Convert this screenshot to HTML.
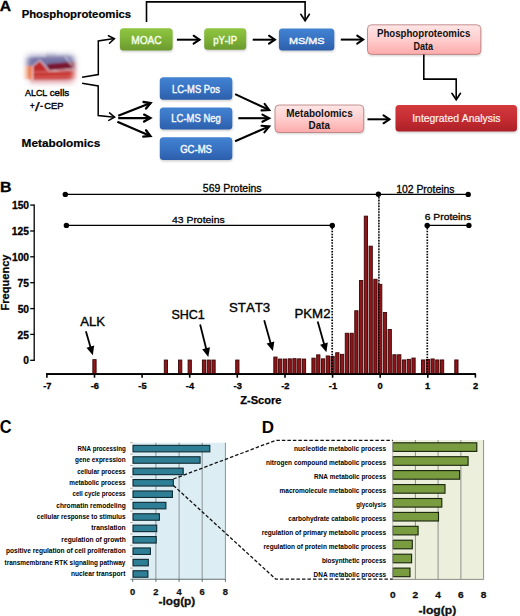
<!DOCTYPE html>
<html><head><meta charset="utf-8"><style>
html,body{margin:0;padding:0;background:#fff;}
body{width:520px;height:616px;overflow:hidden;}
svg{display:block;font-family:"Liberation Sans", sans-serif;font-kerning:none;}
</style></head><body>
<svg width="520" height="616" viewBox="0 0 520 616">
<defs>
<linearGradient id="gGreen" x1="0" y1="0" x2="0" y2="1"><stop offset="0" stop-color="#8fc641"/><stop offset="0.5" stop-color="#7eb237"/><stop offset="1" stop-color="#6b9a2e"/></linearGradient>
<linearGradient id="gBlue" x1="0" y1="0" x2="0" y2="1"><stop offset="0" stop-color="#4283d2"/><stop offset="0.5" stop-color="#3872c2"/><stop offset="1" stop-color="#2c5fab"/></linearGradient>
<linearGradient id="gPink" x1="0" y1="0" x2="0" y2="1"><stop offset="0" stop-color="#ffe6e6"/><stop offset="0.5" stop-color="#ffcdcd"/><stop offset="1" stop-color="#fdaaaa"/></linearGradient>
<linearGradient id="gRed" x1="0" y1="0" x2="0" y2="1"><stop offset="0" stop-color="#d33a3e"/><stop offset="0.5" stop-color="#c52d33"/><stop offset="1" stop-color="#ac2026"/></linearGradient>
<filter id="blur" x="-20%" y="-20%" width="140%" height="160%"><feGaussianBlur stdDeviation="1"/></filter>
<filter id="blur2" x="-40%" y="-40%" width="180%" height="180%"><feGaussianBlur stdDeviation="3"/></filter>
<filter id="blur1" x="-20%" y="-20%" width="140%" height="140%"><feGaussianBlur stdDeviation="0.9"/></filter>
<radialGradient id="gFade" cx="0.5" cy="0.47" r="0.55"><stop offset="0.55" stop-color="#fff" stop-opacity="0"/><stop offset="0.92" stop-color="#fff" stop-opacity="1"/></radialGradient>
<radialGradient id="gMask" cx="0.5" cy="0.5" r="0.5"><stop offset="0.55" stop-color="#fff"/><stop offset="1" stop-color="#000"/></radialGradient>
<mask id="mFade" maskUnits="userSpaceOnUse" x="18" y="48" width="64" height="42"><rect x="18" y="48" width="64" height="42" fill="#000"/><rect x="27.5" y="55.5" width="46" height="26.5" fill="#fff" filter="url(#blur2)"/><rect x="31" y="59" width="39" height="19" fill="#fff" filter="url(#blur2)"/></mask>
</defs>
<text x="-0.24" y="11.00" font-size="15.33" font-weight="bold" fill="#000" textLength="11.30" lengthAdjust="spacingAndGlyphs" stroke="#000" stroke-width="0.3">A</text>
<text x="21.64" y="18.00" font-size="11.77" font-weight="bold" fill="#000" textLength="109.52" lengthAdjust="spacingAndGlyphs" stroke="#000" stroke-width="0.2">Phosphoproteomics</text>
<text x="21.61" y="147.00" font-size="11.77" font-weight="bold" fill="#000" textLength="78.57" lengthAdjust="spacingAndGlyphs" stroke="#000" stroke-width="0.2">Metabolomics</text>
<text x="25.08" y="95.80" font-size="9.74" font-weight="normal" fill="#000" textLength="22.21" lengthAdjust="spacingAndGlyphs" stroke="#000" stroke-width="0.4">ALCL</text>
<text x="49.68" y="95.80" font-size="9.67" font-weight="normal" fill="#000" textLength="19.57" lengthAdjust="spacingAndGlyphs" stroke="#000" stroke-width="0.4">cells</text>
<text x="29.95" y="108.90" font-size="9.08" font-weight="normal" fill="#000" textLength="4.51" lengthAdjust="spacingAndGlyphs" stroke="#000" stroke-width="0.45">+</text>
<text x="35.02" y="110.90" font-size="12.26" font-weight="normal" fill="#000" textLength="4.65" lengthAdjust="spacingAndGlyphs" stroke="#000" stroke-width="0.25">/</text>
<text x="40.10" y="109.30" font-size="9.99" font-weight="normal" fill="#000" textLength="3.00" lengthAdjust="spacingAndGlyphs" stroke="#000" stroke-width="0.4">-</text>
<text x="44.33" y="109.30" font-size="9.16" font-weight="normal" fill="#000" textLength="18.95" lengthAdjust="spacingAndGlyphs" stroke="#000" stroke-width="0.4">CEP</text>
<g mask="url(#mFade)"><g filter="url(#blur1)">
<rect x="18" y="48" width="64" height="42" fill="#ead6dc"/>
<rect x="18" y="48" width="64" height="20" fill="#7472a4"/>
<rect x="18" y="48" width="28" height="9" fill="#a4a2c8"/>
<rect x="56" y="48" width="26" height="7" fill="#9896c0"/>
<polygon points="18,66 33,66 33,80 18,80" fill="#e66a32"/>
<polygon points="33,66 40,61 48,70 82,63 82,82 33,82" fill="#bf2a2a"/>
<polygon points="47,64 82,61 82,70 48,71" fill="#7a1830"/>
<polygon points="33,74 82,72 82,79 33,80" fill="#c83834"/>
<polygon points="30,80 82,79 82,90 30,90" fill="#d89098"/>
<polyline points="32.5,80 32.5,66 40,60 49,71 74,69" fill="none" stroke="#f8e8f0" stroke-width="1" opacity="0.9"/>
<line x1="41.5" y1="62" x2="48.5" y2="70" stroke="#f0d0e0" stroke-width="0.7" opacity="0.8"/>
<line x1="33" y1="72.2" x2="74" y2="71" stroke="#ffd0c8" stroke-width="0.8" opacity="0.7"/>
<line x1="33" y1="77.2" x2="74" y2="76" stroke="#ffc0b8" stroke-width="0.6" opacity="0.6"/>
<line x1="65" y1="56.5" x2="71.5" y2="65" stroke="#f4f0ff" stroke-width="1" opacity="0.9"/>
</g></g>
<rect x="120.4" y="29.7" width="52.7" height="22.3" rx="3.5" fill="#000" opacity="0.18" filter="url(#blur)"/>
<rect x="119.9" y="28.2" width="52.7" height="22.3" rx="3.5" fill="url(#gGreen)" stroke="none" stroke-width="0"/>
<text x="131.29" y="43.90" font-size="10.79" font-weight="normal" fill="#f4ffe8" textLength="30.37" lengthAdjust="spacingAndGlyphs" stroke="#f4ffe8" stroke-width="0.45">MOAC</text>
<rect x="204.7" y="29.7" width="42.0" height="21.5" rx="3.5" fill="#000" opacity="0.18" filter="url(#blur)"/>
<rect x="204.2" y="28.2" width="42.0" height="21.5" rx="3.5" fill="url(#gGreen)" stroke="none" stroke-width="0"/>
<text x="213.21" y="43.80" font-size="10.14" font-weight="normal" fill="#f4ffe8" textLength="23.87" lengthAdjust="spacingAndGlyphs" stroke="#f4ffe8" stroke-width="0.45">pY-IP</text>
<rect x="279.4" y="30.0" width="55.4" height="22.0" rx="3.5" fill="#000" opacity="0.18" filter="url(#blur)"/>
<rect x="278.9" y="28.5" width="55.4" height="22.0" rx="3.5" fill="url(#gBlue)" stroke="none" stroke-width="0"/>
<text x="289.04" y="43.50" font-size="9.85" font-weight="normal" fill="#f4f8ff" textLength="35.54" lengthAdjust="spacingAndGlyphs" stroke="#f4f8ff" stroke-width="0.45">MS/MS</text>
<rect x="368.0" y="26.3" width="113.3" height="29.6" rx="4" fill="#000" opacity="0.18" filter="url(#blur)"/>
<rect x="367.5" y="24.8" width="113.3" height="29.6" rx="4" fill="url(#gPink)" stroke="#b87878" stroke-width="0.8"/>
<text x="376.95" y="37.10" font-size="10.32" font-weight="bold" fill="#111" textLength="93.44" lengthAdjust="spacingAndGlyphs">Phosphoproteomics</text>
<text x="413.40" y="50.00" font-size="10.17" font-weight="bold" fill="#111" textLength="19.55" lengthAdjust="spacingAndGlyphs">Data</text>
<rect x="160.3" y="78.8" width="72.5" height="22.5" rx="3.5" fill="#000" opacity="0.18" filter="url(#blur)"/>
<rect x="159.8" y="77.3" width="72.5" height="22.5" rx="3.5" fill="url(#gBlue)" stroke="none" stroke-width="0"/>
<text x="171.96" y="92.80" font-size="11.01" font-weight="normal" fill="#f4f8ff" textLength="47.96" lengthAdjust="spacingAndGlyphs" stroke="#f4f8ff" stroke-width="0.45">LC-MS Pos</text>
<rect x="160.3" y="109.0" width="72.5" height="22.1" rx="3.5" fill="#000" opacity="0.18" filter="url(#blur)"/>
<rect x="159.8" y="107.5" width="72.5" height="22.1" rx="3.5" fill="url(#gBlue)" stroke="none" stroke-width="0"/>
<text x="171.35" y="122.30" font-size="11.01" font-weight="normal" fill="#f4f8ff" textLength="49.44" lengthAdjust="spacingAndGlyphs" stroke="#f4f8ff" stroke-width="0.45">LC-MS Neg</text>
<rect x="160.3" y="138.8" width="72.5" height="22.7" rx="3.5" fill="#000" opacity="0.18" filter="url(#blur)"/>
<rect x="159.8" y="137.3" width="72.5" height="22.7" rx="3.5" fill="url(#gBlue)" stroke="none" stroke-width="0"/>
<text x="180.14" y="153.00" font-size="11.01" font-weight="normal" fill="#f4f8ff" textLength="31.87" lengthAdjust="spacingAndGlyphs" stroke="#f4f8ff" stroke-width="0.45">GC-MS</text>
<rect x="275.5" y="106.5" width="88.7" height="27.5" rx="4" fill="#000" opacity="0.18" filter="url(#blur)"/>
<rect x="275.0" y="105.0" width="88.7" height="27.5" rx="4" fill="url(#gPink)" stroke="#b87878" stroke-width="0.8"/>
<text x="286.23" y="116.50" font-size="11.19" font-weight="bold" fill="#111" textLength="66.48" lengthAdjust="spacingAndGlyphs">Metabolomics</text>
<text x="308.54" y="129.30" font-size="10.76" font-weight="bold" fill="#111" textLength="21.40" lengthAdjust="spacingAndGlyphs">Data</text>
<rect x="396.0" y="106.5" width="121.5" height="26.5" rx="3.5" fill="#000" opacity="0.18" filter="url(#blur)"/>
<rect x="395.5" y="105.0" width="121.5" height="26.5" rx="3.5" fill="url(#gRed)" stroke="none" stroke-width="0"/>
<text x="412.24" y="122.40" font-size="10.17" font-weight="normal" fill="#fff0f0" textLength="88.23" lengthAdjust="spacingAndGlyphs" stroke="#fff0f0" stroke-width="0.2">Integrated Analysis</text>
<polyline points="82.1,77.3 98.3,74.6 98.3,41.0 114.4,38.6" fill="none" stroke="#000" stroke-width="1.5" stroke-linejoin="miter"/>
<polyline points="109.5,43.2 114.4,38.6 108.4,35.7" fill="none" stroke="#000" stroke-width="1.5" stroke-linecap="round" stroke-linejoin="miter"/>
<polyline points="82.1,83.3 98.2,86.0 98.2,115.6 114.6,117.2" fill="none" stroke="#000" stroke-width="1.5" stroke-linejoin="miter"/>
<polyline points="108.8,120.4 114.6,117.2 109.5,112.9" fill="none" stroke="#000" stroke-width="1.5" stroke-linecap="round" stroke-linejoin="miter"/>
<polyline points="118.2,115.7 150.6,103.0" fill="none" stroke="#000" stroke-width="2.3" stroke-linejoin="miter"/>
<polyline points="146.0,108.6 150.6,103.0 143.5,102.0" fill="none" stroke="#000" stroke-width="2.3" stroke-linecap="round" stroke-linejoin="miter"/>
<polyline points="118.2,118.1 150.4,118.1" fill="none" stroke="#000" stroke-width="2.3" stroke-linejoin="miter"/>
<polyline points="144.1,121.6 150.4,118.1 144.1,114.6" fill="none" stroke="#000" stroke-width="2.3" stroke-linecap="round" stroke-linejoin="miter"/>
<polyline points="117.4,121.7 150.4,136.0" fill="none" stroke="#000" stroke-width="2.3" stroke-linejoin="miter"/>
<polyline points="143.2,136.7 150.4,136.0 146.0,130.3" fill="none" stroke="#000" stroke-width="2.3" stroke-linecap="round" stroke-linejoin="miter"/>
<polyline points="176.9,39.7 199.6,39.7" fill="none" stroke="#000" stroke-width="2.0" stroke-linejoin="miter"/>
<polyline points="193.6,43.7 199.6,39.7 193.6,35.7" fill="none" stroke="#000" stroke-width="2.0" stroke-linecap="round" stroke-linejoin="miter"/>
<polyline points="252.7,39.7 275.0,39.7" fill="none" stroke="#000" stroke-width="2.0" stroke-linejoin="miter"/>
<polyline points="269.0,43.7 275.0,39.7 269.0,35.7" fill="none" stroke="#000" stroke-width="2.0" stroke-linecap="round" stroke-linejoin="miter"/>
<polyline points="340.8,39.6 363.2,39.6" fill="none" stroke="#000" stroke-width="2.0" stroke-linejoin="miter"/>
<polyline points="357.2,43.6 363.2,39.6 357.2,35.6" fill="none" stroke="#000" stroke-width="2.0" stroke-linecap="round" stroke-linejoin="miter"/>
<polyline points="146.5,22 146.5,1.9 305.1,1.9 305.1,20.8" fill="none" stroke="#000" stroke-width="1.6"/>
<polyline points="300.8,14.3 305.1,20.8 309.4,14.3" fill="none" stroke="#000" stroke-width="1.6" stroke-linecap="round" stroke-linejoin="miter"/>
<polyline points="423.8,54.4 423.8,79.1 456.2,79.1 456.2,99.8" fill="none" stroke="#000" stroke-width="1.6"/>
<polyline points="451.9,93.3 456.2,99.8 460.5,93.3" fill="none" stroke="#000" stroke-width="1.6" stroke-linecap="round" stroke-linejoin="miter"/>
<polyline points="235.1,94.1 269.2,110.0" fill="none" stroke="#000" stroke-width="2.1" stroke-linejoin="miter"/>
<polyline points="261.5,110.4 269.2,110.0 264.6,103.9" fill="none" stroke="#000" stroke-width="2.1" stroke-linecap="round" stroke-linejoin="miter"/>
<polyline points="238.3,118.2 269.2,118.2" fill="none" stroke="#000" stroke-width="2.1" stroke-linejoin="miter"/>
<polyline points="262.4,121.8 269.2,118.2 262.4,114.6" fill="none" stroke="#000" stroke-width="2.1" stroke-linecap="round" stroke-linejoin="miter"/>
<polyline points="235.1,141.2 269.2,126.4" fill="none" stroke="#000" stroke-width="2.1" stroke-linejoin="miter"/>
<polyline points="264.4,132.4 269.2,126.4 261.5,125.8" fill="none" stroke="#000" stroke-width="2.1" stroke-linecap="round" stroke-linejoin="miter"/>
<polyline points="367.5,119.3 389.5,119.3" fill="none" stroke="#000" stroke-width="2.0" stroke-linejoin="miter"/>
<polyline points="383.5,123.3 389.5,119.3 383.5,115.3" fill="none" stroke="#000" stroke-width="2.0" stroke-linecap="round" stroke-linejoin="miter"/>
<text x="-0.11" y="191.50" font-size="14.32" font-weight="bold" fill="#000" textLength="11.49" lengthAdjust="spacingAndGlyphs" stroke="#000" stroke-width="0.3">B</text>
<line x1="34.2" y1="204.5" x2="34.2" y2="360.9" stroke="#000" stroke-width="1.3"/>
<line x1="30.2" y1="360.3" x2="34.2" y2="360.3" stroke="#000" stroke-width="1.3"/>
<text x="23.37" y="364.40" font-size="11.03" font-weight="bold" fill="#000" textLength="5.70" lengthAdjust="spacingAndGlyphs" stroke="#000" stroke-width="0.3">0</text>
<line x1="30.2" y1="334.4" x2="34.2" y2="334.4" stroke="#000" stroke-width="1.3"/>
<text x="17.53" y="338.53" font-size="11.03" font-weight="bold" fill="#000" textLength="11.41" lengthAdjust="spacingAndGlyphs" stroke="#000" stroke-width="0.3">25</text>
<line x1="30.2" y1="308.6" x2="34.2" y2="308.6" stroke="#000" stroke-width="1.3"/>
<text x="17.66" y="312.67" font-size="11.03" font-weight="bold" fill="#000" textLength="11.41" lengthAdjust="spacingAndGlyphs" stroke="#000" stroke-width="0.3">50</text>
<line x1="30.2" y1="282.7" x2="34.2" y2="282.7" stroke="#000" stroke-width="1.3"/>
<text x="17.53" y="286.80" font-size="11.03" font-weight="bold" fill="#000" textLength="11.41" lengthAdjust="spacingAndGlyphs" stroke="#000" stroke-width="0.3">75</text>
<line x1="30.2" y1="256.8" x2="34.2" y2="256.8" stroke="#000" stroke-width="1.3"/>
<text x="11.96" y="260.93" font-size="11.03" font-weight="bold" fill="#000" textLength="17.11" lengthAdjust="spacingAndGlyphs" stroke="#000" stroke-width="0.3">100</text>
<line x1="30.2" y1="231.0" x2="34.2" y2="231.0" stroke="#000" stroke-width="1.3"/>
<text x="11.82" y="235.06" font-size="11.03" font-weight="bold" fill="#000" textLength="17.11" lengthAdjust="spacingAndGlyphs" stroke="#000" stroke-width="0.3">125</text>
<line x1="30.2" y1="205.1" x2="34.2" y2="205.1" stroke="#000" stroke-width="1.3"/>
<text x="11.96" y="209.20" font-size="11.03" font-weight="bold" fill="#000" textLength="17.11" lengthAdjust="spacingAndGlyphs" stroke="#000" stroke-width="0.3">150</text>
<g transform="translate(9.2,310.0) rotate(-90)">
<text x="-0.62" y="0.00" font-size="11.30" font-weight="bold" fill="#000" textLength="56.15" lengthAdjust="spacingAndGlyphs" stroke="#000" stroke-width="0.25">Frequency</text>
</g>
<line x1="46.0" y1="374.1" x2="476.0" y2="374.1" stroke="#000" stroke-width="1.6"/>
<line x1="46.9" y1="374.1" x2="46.9" y2="377.7" stroke="#000" stroke-width="1.6"/>
<text x="43.14" y="389.20" font-size="9.31" font-weight="bold" fill="#000" textLength="8.28" lengthAdjust="spacingAndGlyphs" stroke="#000" stroke-width="0.3">-7</text>
<line x1="94.5" y1="374.1" x2="94.5" y2="377.7" stroke="#000" stroke-width="1.6"/>
<text x="90.73" y="389.20" font-size="9.31" font-weight="bold" fill="#000" textLength="8.28" lengthAdjust="spacingAndGlyphs" stroke="#000" stroke-width="0.3">-6</text>
<line x1="142.1" y1="374.1" x2="142.1" y2="377.7" stroke="#000" stroke-width="1.6"/>
<text x="138.31" y="389.20" font-size="9.31" font-weight="bold" fill="#000" textLength="8.28" lengthAdjust="spacingAndGlyphs" stroke="#000" stroke-width="0.3">-5</text>
<line x1="189.7" y1="374.1" x2="189.7" y2="377.7" stroke="#000" stroke-width="1.6"/>
<text x="185.82" y="389.20" font-size="9.31" font-weight="bold" fill="#000" textLength="8.28" lengthAdjust="spacingAndGlyphs" stroke="#000" stroke-width="0.3">-4</text>
<line x1="237.3" y1="374.1" x2="237.3" y2="377.7" stroke="#000" stroke-width="1.6"/>
<text x="233.59" y="389.20" font-size="9.31" font-weight="bold" fill="#000" textLength="8.28" lengthAdjust="spacingAndGlyphs" stroke="#000" stroke-width="0.3">-3</text>
<line x1="285.0" y1="374.1" x2="285.0" y2="377.7" stroke="#000" stroke-width="1.6"/>
<text x="281.23" y="389.20" font-size="9.31" font-weight="bold" fill="#000" textLength="8.28" lengthAdjust="spacingAndGlyphs" stroke="#000" stroke-width="0.3">-2</text>
<line x1="332.6" y1="374.1" x2="332.6" y2="377.7" stroke="#000" stroke-width="1.6"/>
<text x="328.79" y="389.20" font-size="9.31" font-weight="bold" fill="#000" textLength="8.28" lengthAdjust="spacingAndGlyphs" stroke="#000" stroke-width="0.3">-1</text>
<line x1="380.2" y1="374.1" x2="380.2" y2="377.7" stroke="#000" stroke-width="1.6"/>
<text x="377.62" y="389.20" font-size="9.31" font-weight="bold" fill="#000" textLength="5.18" lengthAdjust="spacingAndGlyphs" stroke="#000" stroke-width="0.3">0</text>
<line x1="427.8" y1="374.1" x2="427.8" y2="377.7" stroke="#000" stroke-width="1.6"/>
<text x="425.07" y="389.20" font-size="9.31" font-weight="bold" fill="#000" textLength="5.18" lengthAdjust="spacingAndGlyphs" stroke="#000" stroke-width="0.3">1</text>
<line x1="475.4" y1="374.1" x2="475.4" y2="377.7" stroke="#000" stroke-width="1.6"/>
<text x="472.88" y="389.20" font-size="9.31" font-weight="bold" fill="#000" textLength="5.18" lengthAdjust="spacingAndGlyphs" stroke="#000" stroke-width="0.3">2</text>
<text x="240.19" y="403.90" font-size="10.57" font-weight="bold" fill="#000" textLength="41.26" lengthAdjust="spacingAndGlyphs" stroke="#000" stroke-width="0.25">Z-Score</text>
<line x1="378.9" y1="197" x2="378.9" y2="374" stroke="#9a9a9a" stroke-width="1"/>
<rect x="92.85" y="359.65" width="3.26" height="14.45" fill="#8e1519" stroke="#3a0505" stroke-width="0.9"/>
<rect x="164.28" y="360.05" width="3.26" height="14.05" fill="#8e1519" stroke="#3a0505" stroke-width="0.9"/>
<rect x="178.56" y="360.05" width="3.26" height="14.05" fill="#8e1519" stroke="#3a0505" stroke-width="0.9"/>
<rect x="188.09" y="360.05" width="3.26" height="14.05" fill="#8e1519" stroke="#3a0505" stroke-width="0.9"/>
<rect x="202.38" y="360.05" width="3.26" height="14.05" fill="#8e1519" stroke="#3a0505" stroke-width="0.9"/>
<rect x="207.14" y="360.05" width="3.26" height="14.05" fill="#8e1519" stroke="#3a0505" stroke-width="0.9"/>
<rect x="211.90" y="360.05" width="3.26" height="14.05" fill="#8e1519" stroke="#3a0505" stroke-width="0.9"/>
<rect x="235.71" y="360.05" width="3.26" height="14.05" fill="#8e1519" stroke="#3a0505" stroke-width="0.9"/>
<rect x="273.81" y="357.05" width="3.26" height="17.05" fill="#8e1519" stroke="#3a0505" stroke-width="0.9"/>
<rect x="278.57" y="359.05" width="3.26" height="15.05" fill="#8e1519" stroke="#3a0505" stroke-width="0.9"/>
<rect x="283.33" y="359.05" width="3.26" height="15.05" fill="#8e1519" stroke="#3a0505" stroke-width="0.9"/>
<rect x="288.09" y="358.85" width="3.26" height="15.25" fill="#8e1519" stroke="#3a0505" stroke-width="0.9"/>
<rect x="292.85" y="358.65" width="3.26" height="15.45" fill="#8e1519" stroke="#3a0505" stroke-width="0.9"/>
<rect x="297.62" y="358.85" width="3.26" height="15.25" fill="#8e1519" stroke="#3a0505" stroke-width="0.9"/>
<rect x="302.38" y="359.05" width="3.26" height="15.05" fill="#8e1519" stroke="#3a0505" stroke-width="0.9"/>
<rect x="311.90" y="358.15" width="3.26" height="15.95" fill="#8e1519" stroke="#3a0505" stroke-width="0.9"/>
<rect x="316.66" y="354.85" width="3.26" height="19.25" fill="#8e1519" stroke="#3a0505" stroke-width="0.9"/>
<rect x="321.43" y="358.85" width="3.26" height="15.25" fill="#8e1519" stroke="#3a0505" stroke-width="0.9"/>
<rect x="326.19" y="355.95" width="3.26" height="18.15" fill="#8e1519" stroke="#3a0505" stroke-width="0.9"/>
<rect x="330.95" y="356.35" width="3.26" height="17.75" fill="#8e1519" stroke="#3a0505" stroke-width="0.9"/>
<rect x="335.71" y="352.75" width="3.26" height="21.35" fill="#8e1519" stroke="#3a0505" stroke-width="0.9"/>
<rect x="340.47" y="354.35" width="3.26" height="19.75" fill="#8e1519" stroke="#3a0505" stroke-width="0.9"/>
<rect x="345.24" y="333.25" width="3.26" height="40.85" fill="#8e1519" stroke="#3a0505" stroke-width="0.9"/>
<rect x="350.00" y="333.25" width="3.26" height="40.85" fill="#8e1519" stroke="#3a0505" stroke-width="0.9"/>
<rect x="354.76" y="310.75" width="3.26" height="63.35" fill="#8e1519" stroke="#3a0505" stroke-width="0.9"/>
<rect x="359.52" y="280.55" width="3.26" height="93.55" fill="#8e1519" stroke="#3a0505" stroke-width="0.9"/>
<rect x="364.28" y="216.15" width="3.26" height="157.95" fill="#8e1519" stroke="#3a0505" stroke-width="0.9"/>
<rect x="369.05" y="246.15" width="3.26" height="127.95" fill="#8e1519" stroke="#3a0505" stroke-width="0.9"/>
<rect x="373.81" y="279.25" width="3.26" height="94.85" fill="#8e1519" stroke="#3a0505" stroke-width="0.9"/>
<rect x="378.57" y="284.35" width="3.26" height="89.75" fill="#8e1519" stroke="#3a0505" stroke-width="0.9"/>
<rect x="383.33" y="312.55" width="3.26" height="61.55" fill="#8e1519" stroke="#3a0505" stroke-width="0.9"/>
<rect x="388.09" y="329.45" width="3.26" height="44.65" fill="#8e1519" stroke="#3a0505" stroke-width="0.9"/>
<rect x="392.85" y="354.75" width="3.26" height="19.35" fill="#8e1519" stroke="#3a0505" stroke-width="0.9"/>
<rect x="397.62" y="354.75" width="3.26" height="19.35" fill="#8e1519" stroke="#3a0505" stroke-width="0.9"/>
<rect x="402.38" y="359.95" width="3.26" height="14.15" fill="#8e1519" stroke="#3a0505" stroke-width="0.9"/>
<rect x="407.14" y="359.35" width="3.26" height="14.75" fill="#8e1519" stroke="#3a0505" stroke-width="0.9"/>
<rect x="411.90" y="358.05" width="3.26" height="16.05" fill="#8e1519" stroke="#3a0505" stroke-width="0.9"/>
<rect x="421.43" y="359.95" width="3.26" height="14.15" fill="#8e1519" stroke="#3a0505" stroke-width="0.9"/>
<rect x="426.19" y="359.45" width="3.26" height="14.65" fill="#8e1519" stroke="#3a0505" stroke-width="0.9"/>
<rect x="430.95" y="358.95" width="3.26" height="15.15" fill="#8e1519" stroke="#3a0505" stroke-width="0.9"/>
<rect x="435.71" y="359.95" width="3.26" height="14.15" fill="#8e1519" stroke="#3a0505" stroke-width="0.9"/>
<rect x="440.47" y="359.95" width="3.26" height="14.15" fill="#8e1519" stroke="#3a0505" stroke-width="0.9"/>
<rect x="454.76" y="359.95" width="3.26" height="14.15" fill="#8e1519" stroke="#3a0505" stroke-width="0.9"/>
<line x1="46.0" y1="374.1" x2="476.0" y2="374.1" stroke="#000" stroke-width="1.6"/>
<line x1="65.3" y1="194.4" x2="468.2" y2="194.4" stroke="#000" stroke-width="1.2"/>
<line x1="66.4" y1="225.4" x2="332.3" y2="225.4" stroke="#000" stroke-width="1.2"/>
<line x1="427.2" y1="225.4" x2="468.9" y2="225.4" stroke="#000" stroke-width="1.2"/>
<line x1="378.9" y1="197.0" x2="378.9" y2="374.0" stroke="#000" stroke-width="1.4" stroke-dasharray="1.5,1.36"/>
<line x1="332.2" y1="228.0" x2="332.2" y2="374.0" stroke="#000" stroke-width="1.7" stroke-dasharray="1.5,1.36"/>
<line x1="427.3" y1="228.0" x2="427.3" y2="374.0" stroke="#000" stroke-width="1.7" stroke-dasharray="1.5,1.36"/>
<circle cx="65.3" cy="194.4" r="2.7" fill="#000"/>
<circle cx="378.4" cy="194.3" r="2.7" fill="#000"/>
<circle cx="468.2" cy="194.4" r="2.7" fill="#000"/>
<circle cx="66.4" cy="225.4" r="2.7" fill="#000"/>
<circle cx="332.3" cy="225.4" r="2.7" fill="#000"/>
<circle cx="427.2" cy="225.4" r="2.7" fill="#000"/>
<circle cx="468.9" cy="225.4" r="2.7" fill="#000"/>
<text x="202.83" y="192.30" font-size="10.39" font-weight="normal" fill="#000" textLength="58.70" lengthAdjust="spacingAndGlyphs" stroke="#000" stroke-width="0.3">569 Proteins</text>
<text x="396.26" y="192.60" font-size="10.25" font-weight="normal" fill="#000" textLength="58.27" lengthAdjust="spacingAndGlyphs" stroke="#000" stroke-width="0.3">102 Proteins</text>
<text x="171.91" y="223.30" font-size="9.96" font-weight="normal" fill="#000" textLength="52.82" lengthAdjust="spacingAndGlyphs" stroke="#000" stroke-width="0.3">43 Proteins</text>
<text x="424.73" y="219.70" font-size="9.38" font-weight="normal" fill="#000" textLength="46.50" lengthAdjust="spacingAndGlyphs" stroke="#000" stroke-width="0.3">6 Proteins</text>
<text x="80.25" y="325.90" font-size="12.39" font-weight="normal" fill="#000" textLength="24.82" lengthAdjust="spacingAndGlyphs" stroke="#000" stroke-width="0.35">ALK</text>
<line x1="85.9" y1="331.2" x2="90.6" y2="347.5" stroke="#000" stroke-width="1.8"/>
<polygon points="92.8,355.2 86.5,347.7 94.2,345.4" fill="#000"/>
<text x="171.41" y="318.80" font-size="12.39" font-weight="normal" fill="#000" textLength="33.43" lengthAdjust="spacingAndGlyphs" stroke="#000" stroke-width="0.35">SHC1</text>
<line x1="200.1" y1="324.5" x2="206.3" y2="349.2" stroke="#000" stroke-width="1.8"/>
<polygon points="208.3,357.0 202.2,349.3 210.0,347.3" fill="#000"/>
<text x="228.97" y="311.70" font-size="12.54" font-weight="normal" fill="#000" textLength="41.23" lengthAdjust="spacingAndGlyphs" stroke="#000" stroke-width="0.35">STAT3</text>
<line x1="264.2" y1="320.2" x2="270.7" y2="343.4" stroke="#000" stroke-width="1.8"/>
<polygon points="272.9,351.1 266.6,343.5 274.3,341.4" fill="#000"/>
<text x="294.49" y="317.50" font-size="12.54" font-weight="normal" fill="#000" textLength="36.00" lengthAdjust="spacingAndGlyphs" stroke="#000" stroke-width="0.35">PKM2</text>
<line x1="317.7" y1="321.6" x2="324.2" y2="344.6" stroke="#000" stroke-width="1.8"/>
<polygon points="326.4,352.3 320.1,344.7 327.8,342.6" fill="#000"/>
<text x="-0.37" y="433.30" font-size="17.47" font-weight="bold" fill="#000" textLength="11.82" lengthAdjust="spacingAndGlyphs">C</text>
<rect x="132.7" y="442.7" width="92.7" height="136.2" fill="#dcedf4"/>
<line x1="155.9" y1="442.7" x2="155.9" y2="578.9" stroke="#8a9396" stroke-width="1"/>
<line x1="179.1" y1="442.7" x2="179.1" y2="578.9" stroke="#8a9396" stroke-width="1"/>
<line x1="202.2" y1="442.7" x2="202.2" y2="578.9" stroke="#8a9396" stroke-width="1"/>
<line x1="225.4" y1="442.7" x2="225.4" y2="578.9" stroke="#8a9396" stroke-width="1"/>
<rect x="133.0" y="445.35" width="76.8" height="6.5" fill="#2e7f96" stroke="#0f2a31" stroke-width="1.1"/>
<text x="77.49" y="451.10" font-size="7.27" font-weight="bold" fill="#000" textLength="48.23" lengthAdjust="spacingAndGlyphs">RNA processing</text>
<rect x="133.0" y="456.75" width="67.1" height="6.5" fill="#2e7f96" stroke="#0f2a31" stroke-width="1.1"/>
<text x="75.04" y="462.44" font-size="7.27" font-weight="bold" fill="#000" textLength="50.66" lengthAdjust="spacingAndGlyphs">gene expression</text>
<rect x="133.0" y="468.15" width="50.2" height="6.5" fill="#2e7f96" stroke="#0f2a31" stroke-width="1.1"/>
<text x="77.15" y="473.78" font-size="7.27" font-weight="bold" fill="#000" textLength="48.41" lengthAdjust="spacingAndGlyphs">cellular process</text>
<rect x="133.0" y="479.55" width="40.3" height="6.5" fill="#2e7f96" stroke="#0f2a31" stroke-width="1.1"/>
<text x="69.18" y="485.12" font-size="7.27" font-weight="bold" fill="#000" textLength="56.39" lengthAdjust="spacingAndGlyphs">metabolic process</text>
<rect x="133.0" y="490.95" width="39.4" height="6.5" fill="#2e7f96" stroke="#0f2a31" stroke-width="1.1"/>
<text x="72.46" y="496.46" font-size="7.27" font-weight="bold" fill="#000" textLength="53.10" lengthAdjust="spacingAndGlyphs">cell cycle process</text>
<rect x="133.0" y="502.35" width="32.9" height="6.5" fill="#2e7f96" stroke="#0f2a31" stroke-width="1.1"/>
<text x="56.34" y="507.80" font-size="7.27" font-weight="bold" fill="#000" textLength="69.40" lengthAdjust="spacingAndGlyphs">chromatin remodeling</text>
<rect x="133.0" y="513.75" width="26.4" height="6.5" fill="#2e7f96" stroke="#0f2a31" stroke-width="1.1"/>
<text x="36.85" y="519.14" font-size="7.27" font-weight="bold" fill="#000" textLength="88.71" lengthAdjust="spacingAndGlyphs">cellular response to stimulus</text>
<rect x="133.0" y="525.15" width="23.7" height="6.5" fill="#2e7f96" stroke="#0f2a31" stroke-width="1.1"/>
<text x="91.32" y="530.48" font-size="7.27" font-weight="bold" fill="#000" textLength="34.40" lengthAdjust="spacingAndGlyphs">translation</text>
<rect x="133.0" y="536.55" width="23.2" height="6.5" fill="#2e7f96" stroke="#0f2a31" stroke-width="1.1"/>
<text x="61.36" y="541.82" font-size="7.27" font-weight="bold" fill="#000" textLength="64.35" lengthAdjust="spacingAndGlyphs">regulation of growth</text>
<rect x="133.0" y="547.95" width="17.4" height="6.5" fill="#2e7f96" stroke="#0f2a31" stroke-width="1.1"/>
<text x="6.07" y="553.16" font-size="7.27" font-weight="bold" fill="#000" textLength="119.64" lengthAdjust="spacingAndGlyphs">positive regulation of cell proliferation</text>
<rect x="133.0" y="559.35" width="15.3" height="6.5" fill="#2e7f96" stroke="#0f2a31" stroke-width="1.1"/>
<text x="4.62" y="564.50" font-size="7.27" font-weight="bold" fill="#000" textLength="120.71" lengthAdjust="spacingAndGlyphs">transmembrane RTK signaling pathway</text>
<rect x="133.0" y="570.75" width="14.9" height="6.5" fill="#2e7f96" stroke="#0f2a31" stroke-width="1.1"/>
<text x="70.96" y="575.84" font-size="7.27" font-weight="bold" fill="#000" textLength="54.42" lengthAdjust="spacingAndGlyphs">nuclear transport</text>
<line x1="130.2" y1="442.7" x2="132.7" y2="442.7" stroke="#a08888" stroke-width="0.8"/>
<line x1="130.2" y1="454.1" x2="132.7" y2="454.1" stroke="#a08888" stroke-width="0.8"/>
<line x1="130.2" y1="465.5" x2="132.7" y2="465.5" stroke="#a08888" stroke-width="0.8"/>
<line x1="130.2" y1="476.9" x2="132.7" y2="476.9" stroke="#a08888" stroke-width="0.8"/>
<line x1="130.2" y1="488.3" x2="132.7" y2="488.3" stroke="#a08888" stroke-width="0.8"/>
<line x1="130.2" y1="499.7" x2="132.7" y2="499.7" stroke="#a08888" stroke-width="0.8"/>
<line x1="130.2" y1="511.1" x2="132.7" y2="511.1" stroke="#a08888" stroke-width="0.8"/>
<line x1="130.2" y1="522.5" x2="132.7" y2="522.5" stroke="#a08888" stroke-width="0.8"/>
<line x1="130.2" y1="533.9" x2="132.7" y2="533.9" stroke="#a08888" stroke-width="0.8"/>
<line x1="130.2" y1="545.3" x2="132.7" y2="545.3" stroke="#a08888" stroke-width="0.8"/>
<line x1="130.2" y1="556.7" x2="132.7" y2="556.7" stroke="#a08888" stroke-width="0.8"/>
<line x1="130.2" y1="568.1" x2="132.7" y2="568.1" stroke="#a08888" stroke-width="0.8"/>
<line x1="130.4" y1="579.3" x2="225.4" y2="579.3" stroke="#607070" stroke-width="1.1"/>
<line x1="132.7" y1="578.9" x2="132.7" y2="581.9" stroke="#607070" stroke-width="1"/>
<text x="130.12" y="594.50" font-size="8.31" font-weight="bold" fill="#111" textLength="5.17" lengthAdjust="spacingAndGlyphs" stroke="#111" stroke-width="0.25">0</text>
<line x1="155.9" y1="578.9" x2="155.9" y2="581.9" stroke="#607070" stroke-width="1"/>
<text x="153.31" y="594.50" font-size="8.31" font-weight="bold" fill="#111" textLength="5.17" lengthAdjust="spacingAndGlyphs" stroke="#111" stroke-width="0.25">2</text>
<line x1="179.1" y1="578.9" x2="179.1" y2="581.9" stroke="#607070" stroke-width="1"/>
<text x="176.42" y="594.50" font-size="8.31" font-weight="bold" fill="#111" textLength="5.17" lengthAdjust="spacingAndGlyphs" stroke="#111" stroke-width="0.25">4</text>
<line x1="202.2" y1="578.9" x2="202.2" y2="581.9" stroke="#607070" stroke-width="1"/>
<text x="199.64" y="594.50" font-size="8.31" font-weight="bold" fill="#111" textLength="5.17" lengthAdjust="spacingAndGlyphs" stroke="#111" stroke-width="0.25">6</text>
<line x1="225.4" y1="578.9" x2="225.4" y2="581.9" stroke="#607070" stroke-width="1"/>
<text x="222.81" y="594.50" font-size="8.31" font-weight="bold" fill="#111" textLength="5.17" lengthAdjust="spacingAndGlyphs" stroke="#111" stroke-width="0.25">8</text>
<text x="158.49" y="604.60" font-size="11.52" font-weight="bold" fill="#111" textLength="36.75" lengthAdjust="spacingAndGlyphs" stroke="#111" stroke-width="0.3">-log(p)</text>
<text x="261.67" y="432.90" font-size="16.86" font-weight="bold" fill="#000" textLength="12.25" lengthAdjust="spacingAndGlyphs">D</text>
<rect x="392.7" y="440.0" width="90.9" height="139.4" fill="#ebefdc"/>
<line x1="415.4" y1="440.0" x2="415.4" y2="579.4" stroke="#8f918a" stroke-width="1"/>
<line x1="438.1" y1="440.0" x2="438.1" y2="579.4" stroke="#8f918a" stroke-width="1"/>
<line x1="460.9" y1="440.0" x2="460.9" y2="579.4" stroke="#8f918a" stroke-width="1"/>
<line x1="483.6" y1="440.0" x2="483.6" y2="579.4" stroke="#8f918a" stroke-width="1"/>
<rect x="392.7" y="442.8" width="84.1" height="8.6" fill="#789c3f" stroke="#18220c" stroke-width="1.1"/>
<text x="294.07" y="451.10" font-size="7.27" font-weight="bold" fill="#000" textLength="92.00" lengthAdjust="spacingAndGlyphs">nucleotide metabolic process</text>
<rect x="392.7" y="456.7" width="75.4" height="8.6" fill="#789c3f" stroke="#18220c" stroke-width="1.1"/>
<text x="266.07" y="465.06" font-size="7.27" font-weight="bold" fill="#000" textLength="120.00" lengthAdjust="spacingAndGlyphs">nitrogen compound metabolic process</text>
<rect x="392.7" y="470.6" width="66.9" height="8.6" fill="#789c3f" stroke="#18220c" stroke-width="1.1"/>
<text x="314.07" y="479.02" font-size="7.27" font-weight="bold" fill="#000" textLength="71.99" lengthAdjust="spacingAndGlyphs">RNA metabolic process</text>
<rect x="392.7" y="484.6" width="52.3" height="8.6" fill="#789c3f" stroke="#18220c" stroke-width="1.1"/>
<text x="279.57" y="492.98" font-size="7.27" font-weight="bold" fill="#000" textLength="106.49" lengthAdjust="spacingAndGlyphs">macromolecule metabolic process</text>
<rect x="392.7" y="498.5" width="49.1" height="8.6" fill="#789c3f" stroke="#18220c" stroke-width="1.1"/>
<text x="356.35" y="506.94" font-size="7.27" font-weight="bold" fill="#000" textLength="29.70" lengthAdjust="spacingAndGlyphs">glycolysis</text>
<rect x="392.7" y="512.4" width="45.8" height="8.6" fill="#789c3f" stroke="#18220c" stroke-width="1.1"/>
<text x="288.35" y="520.90" font-size="7.27" font-weight="bold" fill="#000" textLength="97.72" lengthAdjust="spacingAndGlyphs">carbohydrate catabolic process</text>
<rect x="392.7" y="526.3" width="25.4" height="8.6" fill="#789c3f" stroke="#18220c" stroke-width="1.1"/>
<text x="261.67" y="534.86" font-size="7.27" font-weight="bold" fill="#000" textLength="124.40" lengthAdjust="spacingAndGlyphs">regulation of primary metabolic process</text>
<rect x="392.7" y="540.2" width="19.6" height="8.6" fill="#789c3f" stroke="#18220c" stroke-width="1.1"/>
<text x="263.47" y="548.82" font-size="7.27" font-weight="bold" fill="#000" textLength="122.60" lengthAdjust="spacingAndGlyphs">regulation of protein metabolic process</text>
<rect x="392.7" y="554.2" width="18.9" height="8.6" fill="#789c3f" stroke="#18220c" stroke-width="1.1"/>
<text x="321.88" y="562.78" font-size="7.27" font-weight="bold" fill="#000" textLength="64.19" lengthAdjust="spacingAndGlyphs">biosynthetic process</text>
<rect x="392.7" y="568.1" width="17.3" height="8.6" fill="#789c3f" stroke="#18220c" stroke-width="1.1"/>
<text x="313.57" y="576.74" font-size="7.27" font-weight="bold" fill="#000" textLength="72.50" lengthAdjust="spacingAndGlyphs">DNA metabolic process</text>
<line x1="392.7" y1="440.0" x2="392.7" y2="579.4" stroke="#b8b8b0" stroke-width="0.9"/>
<line x1="392.7" y1="579.4" x2="483.6" y2="579.4" stroke="#8e8e86" stroke-width="1"/>
<text x="389.90" y="597.80" font-size="9.02" font-weight="bold" fill="#111" textLength="5.62" lengthAdjust="spacingAndGlyphs" stroke="#111" stroke-width="0.3">0</text>
<text x="412.64" y="597.80" font-size="9.02" font-weight="bold" fill="#111" textLength="5.62" lengthAdjust="spacingAndGlyphs" stroke="#111" stroke-width="0.3">2</text>
<text x="435.29" y="597.80" font-size="9.02" font-weight="bold" fill="#111" textLength="5.62" lengthAdjust="spacingAndGlyphs" stroke="#111" stroke-width="0.3">4</text>
<text x="458.06" y="597.80" font-size="9.02" font-weight="bold" fill="#111" textLength="5.62" lengthAdjust="spacingAndGlyphs" stroke="#111" stroke-width="0.3">6</text>
<text x="480.79" y="597.80" font-size="9.02" font-weight="bold" fill="#111" textLength="5.62" lengthAdjust="spacingAndGlyphs" stroke="#111" stroke-width="0.3">8</text>
<text x="418.48" y="614.10" font-size="11.39" font-weight="bold" fill="#111" textLength="37.78" lengthAdjust="spacingAndGlyphs" stroke="#111" stroke-width="0.3">-log(p)</text>
<polyline points="173.4,479.0 275.6,440.4 392.7,440.4" fill="none" stroke="#111" stroke-width="1.3" stroke-dasharray="3.5,2"/>
<polyline points="173.4,485.4 275.8,579.2 392.7,579.2" fill="none" stroke="#111" stroke-width="1.3" stroke-dasharray="3.5,2"/>
</svg>
</body></html>
